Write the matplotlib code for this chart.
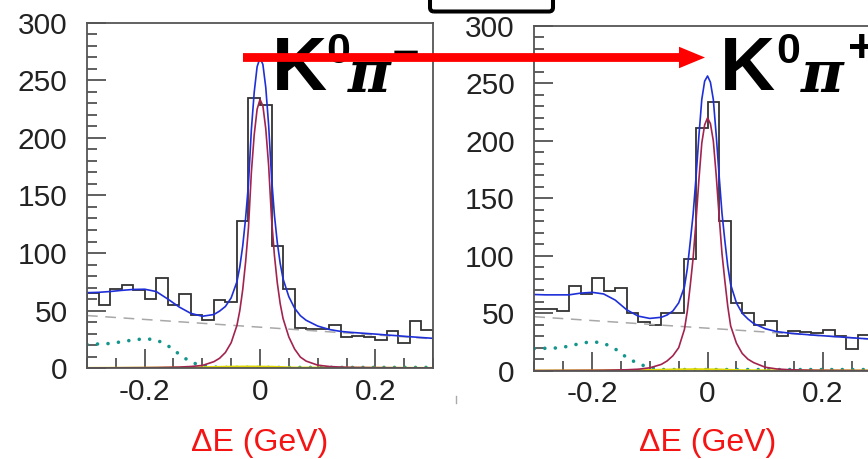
import numpy as np
import matplotlib
matplotlib.use('Agg')
import matplotlib.pyplot as plt
import matplotlib.patches as patches
from matplotlib.lines import Line2D
from matplotlib.ticker import MultipleLocator, FuncFormatter

plt.rcParams['font.family'] = ['Liberation Sans', 'DejaVu Sans']
plt.rcParams['axes.unicode_minus'] = False

# ---- data ----
bin_edges = np.round(np.arange(-0.30, 0.3001, 0.02), 2)

hist_left = [65.5, 55, 68.5, 72, 67.5, 60, 78, 55, 64, 46, 42, 59, 57, 128, 235,
             229, 106, 69, 34.5, 34, 34, 37, 27, 27.5, 27, 24, 32.5, 22, 41, 33]
hist_right = [54, 54, 52, 73.5, 66.5, 81, 69, 72, 50, 42, 40, 50, 50, 97, 211,
              234, 130, 58.5, 50.5, 39.5, 43.5, 30, 34.5, 33.3, 32.7, 35.5, 30.5, 18.5, 31.5, 30]

# x positions where the fitted curves were read
curve_x = [-0.30, -0.28, -0.26, -0.24, -0.22, -0.20, -0.18, -0.16, -0.14, -0.12, -0.10,
           -0.08, -0.07, -0.06, -0.05, -0.04,
           -0.035, -0.03, -0.025, -0.02, -0.015, -0.01, -0.005,
           0.0,
           0.005, 0.01, 0.015, 0.02, 0.025, 0.03, 0.035,
           0.04, 0.05, 0.06, 0.07, 0.08,
           0.10, 0.12, 0.14, 0.16, 0.18, 0.20, 0.22, 0.24, 0.26, 0.28, 0.30]

total_left = [65.5, 65.8, 66.5, 67.5, 68.3, 68.5, 66.5, 60, 53, 47.5, 45,
              46.5, 49.5, 53.5, 61, 75,
              88, 106, 130, 160, 207, 240, 262,
              269.5,
              264, 244, 211, 166, 133, 109, 91,
              77.5, 62, 52, 45.5, 41.5,
              36.5, 33.5, 31.8, 30.9, 30.2, 29.5, 28.7, 28, 27.2, 26.5, 25.8]
signal_left = [0.1, 0.1, 0.15, 0.2, 0.25, 0.3, 0.4, 0.6, 0.8, 1.3, 2.2,
               5.5, 8.5, 13.5, 22, 37,
               50, 68, 92, 122, 170, 203, 225,
               233.5,
               228, 208, 176, 130, 98, 74, 56,
               43, 27, 16.5, 9.5, 6,
               2.5, 1.3, 0.8, 0.5, 0.4, 0.3, 0.25, 0.2, 0.15, 0.1, 0.1]
peaking_left = [20.5, 20.9, 21.3, 22.8, 24.4, 25.4, 24.6, 19.5, 12, 5, 2,
                0.8, 0.6, 0.5, 0.5, 0.5,
                0.5, 0.5, 0.5, 0.5, 0.5, 0.5, 0.5,
                0.5,
                0.5, 0.5, 0.5, 0.5, 0.5, 0.5, 0.5,
                0.5, 0.5, 0.5, 0.5, 0.5,
                0.5, 0.5, 0.5, 0.5, 0.5, 0.5, 0.5, 0.5, 0.5, 0.5, 0.5]

total_right = [66.3, 66, 66, 66, 67.5, 68.2, 66.8, 61.5, 53, 47.5, 45.5,
               46.5, 48.5, 52, 59, 73,
               89, 112, 136, 168, 204, 236, 252,
               256.5,
               251, 236, 205, 170, 137, 113, 91,
               75, 59, 50, 45, 41,
               36.5, 34, 32.8, 31.9, 31.1, 30.4, 29.7, 29, 28.3, 27.6, 27]
signal_right = [0.1, 0.1, 0.15, 0.2, 0.25, 0.3, 0.4, 0.6, 0.8, 1.3, 2.5,
                5.5, 8.5, 13, 20, 36,
                52, 74, 98, 130, 166, 198, 214,
                220,
                215, 200, 170, 135, 102, 78, 56,
                39, 24, 15, 10, 7,
                3, 1.5, 0.9, 0.6, 0.4, 0.3, 0.25, 0.2, 0.15, 0.1, 0.1]
peaking_right = [19.3, 19.5, 19.8, 21.3, 23.8, 25.3, 24, 19, 11.5, 6, 2.8,
                 1.0, 1.0, 1.0, 1.0, 1.0,
                 1.0, 1.0, 1.0, 1.0, 1.0, 1.0, 1.0,
                 1.0,
                 1.0, 1.0, 1.0, 1.0, 1.0, 1.0, 1.0,
                 1.0, 1.0, 1.0, 1.0, 1.0,
                 1.0, 1.0, 1.0, 1.0, 1.0, 1.0, 1.0, 1.0, 1.0, 1.0, 1.0]

bkg_x = [-0.30, 0.30]
bkg_left = [45.6, 25.4]
bkg_right = [47.0, 27.0]

small_x = [-0.30, -0.12, -0.06, -0.02, 0.02, 0.06, 0.30]
small_comp = [0, 0.3, 1.0, 1.2, 1.0, 0.3, 0]

W, H = 868, 459


def draw_panel(ax, hist, total, signal, peaking, bkg):
    ax.plot(bkg_x, bkg, color='#a8a8a8', lw=1.1, dashes=(7, 5))
    ax.plot(curve_x, peaking, color='#14968c', lw=2.6,
            linestyle=(0, (0.01, 2.9)), dash_capstyle='round')
    ax.plot(small_x, small_comp, color='#e0d800', lw=1.6)
    ax.stairs(hist, bin_edges, color='#333333', lw=1.3)
    ax.plot(curve_x, signal, color='#a3234f', lw=1.2)
    ax.plot(curve_x, total, color='#1f2fd8', lw=1.2)

    ax.set_xlim(-0.3, 0.3)
    ax.set_ylim(0, 300)
    ax.xaxis.set_major_locator(MultipleLocator(0.2))
    ax.xaxis.set_minor_locator(MultipleLocator(0.05))
    ax.yaxis.set_major_locator(MultipleLocator(50))
    ax.yaxis.set_minor_locator(MultipleLocator(10))
    ax.xaxis.set_major_formatter(FuncFormatter(lambda v, p: '0' if abs(v) < 1e-9 else f'{v:g}'))
    ax.yaxis.set_major_formatter(FuncFormatter(lambda v, p: f'{v:.0f}'))
    ax.tick_params(which='major', direction='in', length=14, width=1.2, color='#444',
                   labelsize=21.5, labelcolor='#222')
    ax.tick_params(which='minor', direction='in', length=7, width=1.2, color='#444')
    ax.tick_params(axis='y', which='major', pad=14)
    ax.tick_params(axis='x', which='major', pad=7)
    for s in ax.spines.values():
        s.set_color('#555')
        s.set_linewidth(1.3)


fig = plt.figure(figsize=(W / 100, H / 100), dpi=100)

ax1 = fig.add_axes([87 / W, (H - 368) / H, 346 / W, 345 / H])
draw_panel(ax1, hist_left, total_left, signal_left, peaking_left, bkg_left)
ax2 = fig.add_axes([534.3 / W, (H - 370.7) / H, 346.5 / W, 344.7 / H])
draw_panel(ax2, hist_right, total_right, signal_right, peaking_right, bkg_right)

for ax, y0, h in [(ax1, 368, 345), (ax2, 370.7, 344.7)]:
    ax.set_xlabel('\u0394E (GeV)', color='#f41414', fontsize=23, va='center')
    ax.xaxis.set_label_coords(0.5, (y0 - 443) / h)


def px(x, y):
    return x / W, 1 - y / H


# channel labels
big = dict(color='black', fontweight='bold', family='Liberation Sans', va='baseline', zorder=5)
pi_style = dict(color='black', fontweight='bold', family='DejaVu Serif', style='italic',
                va='baseline', fontsize=42)
fig.text(*px(271.5, 90), 'K', fontsize=55, **big)
fig.text(*px(326, 63), '0', fontsize=31, **big)
fig.text(*px(348, 92), '\u03c0', **pi_style)
fig.text(*px(393, 65), '\u2013', fontsize=34, **big)

fig.text(*px(719.5, 90), 'K', fontsize=55, **big)
fig.text(*px(776, 63), '0', fontsize=31, **big)
fig.text(*px(801, 92), '\u03c0', **pi_style)
fig.text(*px(848, 62), '+', fontsize=34, **big)

# red arrow from K0pi- to K0pi+
arrow = patches.FancyArrow(2.43, (H - 57.5) / 100, 4.62, 0, width=0.088,
                           head_width=0.215, head_length=0.26, length_includes_head=True,
                           color='#ff0000', lw=0, transform=fig.dpi_scale_trans, zorder=10)
fig.add_artist(arrow)

# partial box at the top edge
box = patches.FancyBboxPatch((4.30, (H - 11.5) / 100), 1.23, 0.4,
                             boxstyle='round,pad=0,rounding_size=0.04',
                             fc='none', ec='black', lw=2.9, transform=fig.dpi_scale_trans)
fig.add_artist(box)
fig.add_artist(Line2D([4.56, 4.56], [(H - 396) / 100, (H - 403) / 100], color='#aaaaaa',
                      lw=1, transform=fig.dpi_scale_trans))

fig.savefig('out.png', dpi=100)
